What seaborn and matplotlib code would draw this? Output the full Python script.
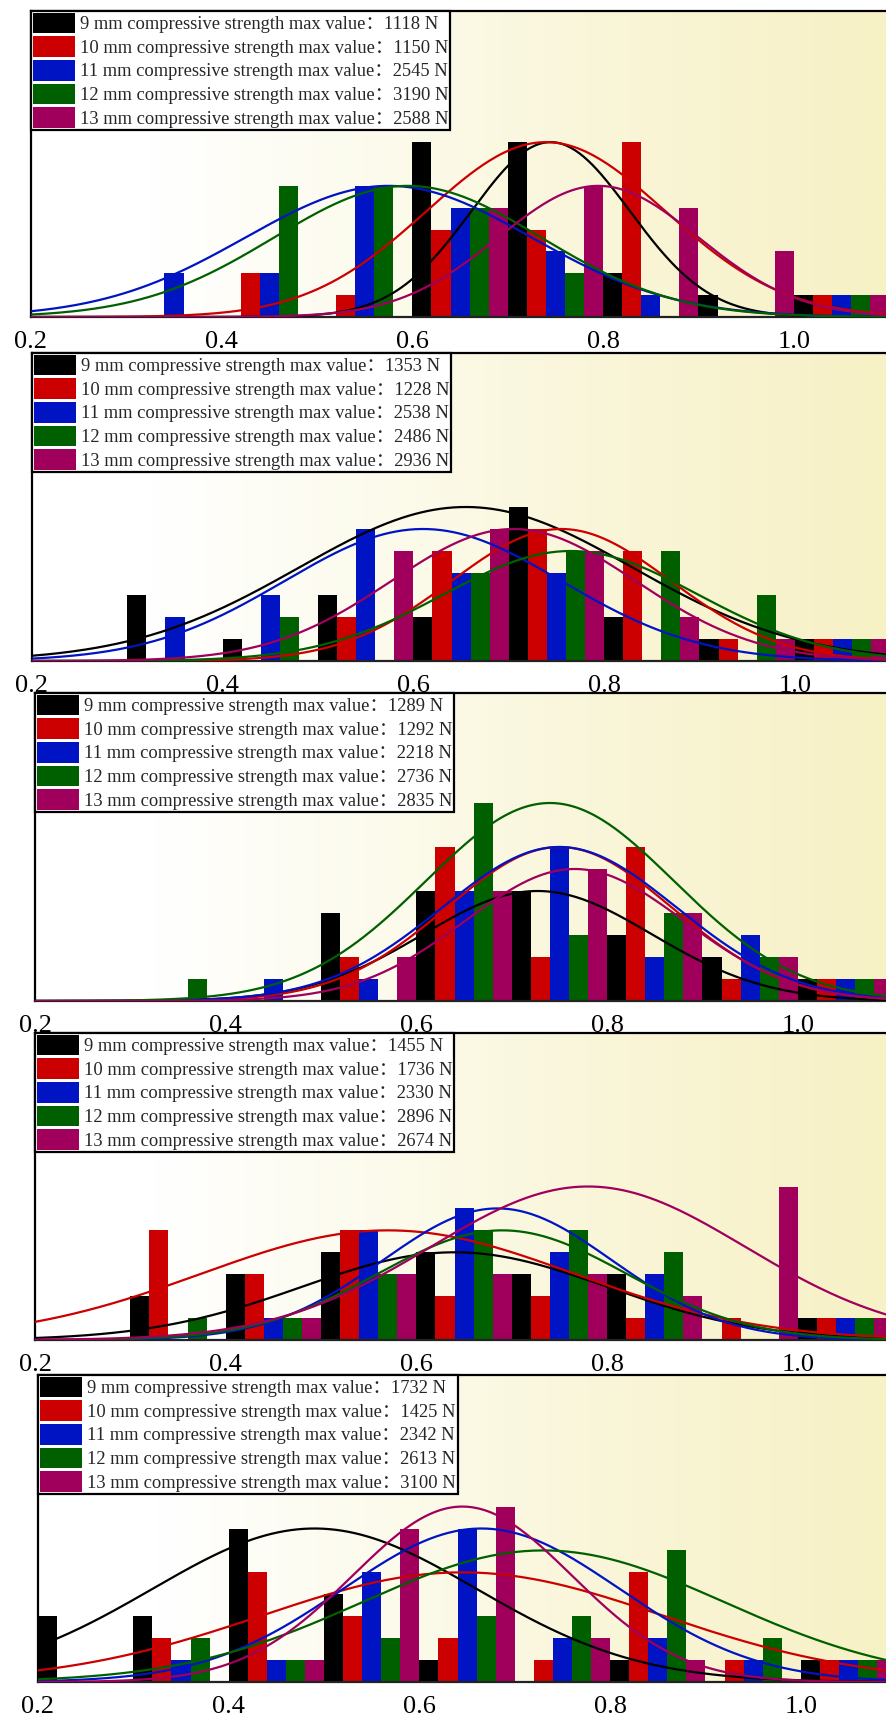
import numpy as np
import matplotlib
matplotlib.use("Agg")
import matplotlib.pyplot as plt
from matplotlib.colors import LinearSegmentedColormap
from matplotlib.patches import Patch
from matplotlib.font_manager import FontProperties
import seaborn as sns

sns.set_theme(style="white")
plt.rcParams["font.family"] = ["Liberation Serif", "Noto Sans CJK SC", "DejaVu Serif"]

# ---------------------------------------------------------------- data
bin_starts = [0.2, 0.3, 0.4, 0.5, 0.6, 0.7, 0.8, 0.9, 1.0]
diameters = ["9 mm", "10 mm", "11 mm", "12 mm", "13 mm"]
series_colors = ["#000000", "#CC0000", "#0014C4", "#006000", "#A0005C"]
tick_values = [0.2, 0.4, 0.6, 0.8, 1.0]

# sample counts per bin, one row per diameter (9 ... 13 mm)
counts_1 = [[0, 0, 0, 0, 8, 8, 2, 1, 1],
            [0, 0, 2, 1, 4, 4, 8, 0, 1],
            [0, 2, 2, 6, 5, 3, 1, 0, 1],
            [0, 0, 6, 6, 5, 2, 0, 0, 1],
            [0, 0, 0, 0, 5, 6, 5, 3, 1]]
counts_2 = [[0, 3, 1, 3, 2, 7, 2, 1, 1],
            [0, 0, 0, 2, 5, 6, 5, 1, 1],
            [0, 2, 3, 6, 4, 4, 0, 0, 1],
            [0, 0, 2, 0, 4, 5, 5, 3, 1],
            [0, 0, 0, 5, 6, 5, 2, 1, 1]]
counts_3 = [[0, 0, 0, 4, 5, 5, 3, 2, 1],
            [0, 0, 0, 2, 7, 2, 7, 1, 1],
            [0, 0, 1, 1, 5, 7, 2, 3, 1],
            [0, 1, 0, 0, 9, 3, 4, 2, 1],
            [0, 0, 0, 2, 5, 6, 4, 2, 1]]
counts_4 = [[0, 2, 3, 4, 4, 3, 3, 0, 1],
            [0, 5, 3, 5, 2, 2, 1, 1, 1],
            [0, 0, 1, 5, 6, 4, 3, 0, 1],
            [0, 1, 1, 3, 5, 5, 4, 0, 1],
            [0, 0, 1, 3, 3, 3, 2, 7, 1]]
counts_5 = [[3, 3, 7, 4, 1, 0, 1, 0, 1],
            [0, 2, 5, 3, 2, 1, 5, 1, 1],
            [0, 1, 1, 5, 7, 2, 2, 1, 1],
            [0, 2, 1, 2, 3, 3, 6, 2, 1],
            [0, 0, 1, 7, 8, 2, 1, 0, 1]]

# maximum compressive strength (N) of each diameter
max_1 = [1118, 1150, 2545, 3190, 2588]
max_2 = [1353, 1228, 2538, 2486, 2936]
max_3 = [1289, 1292, 2218, 2736, 2835]
max_4 = [1455, 1736, 2330, 2896, 2674]
max_5 = [1732, 1425, 2342, 2613, 3100]

# fitted normal curves: mean, standard deviation, peak height
mu_1 = [0.745, 0.740, 0.575, 0.595, 0.795]
sd_1 = [0.083, 0.125, 0.150, 0.140, 0.105]
pk_1 = [8, 8, 6, 6, 6]
mu_2 = [0.655, 0.755, 0.610, 0.765, 0.705]
sd_2 = [0.175, 0.115, 0.145, 0.133, 0.128]
pk_2 = [7, 6, 6, 5, 6]
mu_3 = [0.727, 0.750, 0.750, 0.740, 0.766]
sd_3 = [0.120, 0.118, 0.123, 0.130, 0.115]
pk_3 = [5, 7, 7, 9, 6]
mu_4 = [0.640, 0.570, 0.685, 0.690, 0.780]
sd_4 = [0.160, 0.195, 0.120, 0.130, 0.165]
pk_4 = [4, 5, 6, 5, 7]
mu_5 = [0.490, 0.645, 0.665, 0.730, 0.645]
sd_5 = [0.170, 0.210, 0.145, 0.190, 0.115]
pk_5 = [7, 5, 7, 6, 8]

panels = [
    (counts_1, max_1, mu_1, sd_1, pk_1),
    (counts_2, max_2, mu_2, sd_2, pk_2),
    (counts_3, max_3, mu_3, sd_3, pk_3),
    (counts_4, max_4, mu_4, sd_4, pk_4),
    (counts_5, max_5, mu_5, sd_5, pk_5),
]

# ---------------------------------------------------------------- layout
W, H = 886, 1717
frames = [(31, 11, 317), (32, 353, 661), (35, 693, 1001), (35, 1033, 1340), (38, 1375, 1682)]
px_per_unit = 953.5          # pixels per 1.0 on the x axis
bar_w = 0.02

fig = plt.figure(figsize=(W / 100, H / 100), dpi=100, facecolor="white")

bg_cmap = LinearSegmentedColormap.from_list(
    "cream", [(0.0, "#FFFFFF"), (0.14, "#FFFFFF"), (0.45, "#FCFAE9"),
              (0.75, "#F9F4D3"), (1.0, "#F7F1C6")])
gradient = np.linspace(0, 1, 512).reshape(1, -1)

legend_font = FontProperties(family=["Liberation Serif", "Noto Sans CJK SC"], size=13.3)

for (counts, maxima, mus, sds, pks), (left, top, bottom) in zip(panels, frames):
    ax = fig.add_axes([left / W, 1 - bottom / H, 1 - left / W, (bottom - top) / H])
    xmax = 0.2 + (W - left) / px_per_unit
    ax.set_xlim(0.2, xmax)
    ax.set_ylim(0, 14)

    ax.imshow(gradient, extent=[0, 1, 0, 1], transform=ax.transAxes,
              aspect="auto", cmap=bg_cmap, zorder=0)

    for i, (row, color) in enumerate(zip(counts, series_colors)):
        xs = np.array(bin_starts) + i * bar_w
        ax.bar(xs, row, width=bar_w, align="edge", color=color,
               linewidth=0, zorder=2)

    xx = np.linspace(0.2, xmax, 400)
    for m, s, p, color in zip(mus, sds, pks, series_colors):
        yy = p * np.exp(-0.5 * ((xx - m) / s) ** 2)
        sns.lineplot(x=xx, y=yy, color=color, linewidth=1.6, ax=ax,
                     legend=False, zorder=3)

    ax.set_xticks(tick_values)
    ax.set_xticklabels([f"{t:.1f}" for t in tick_values])
    ax.tick_params(axis="x", length=0, pad=10, labelsize=19, colors="black")
    ax.set_yticks([])
    ax.set_xlabel("")
    ax.set_ylabel("")

    for side in ["top", "left"]:
        ax.spines[side].set_color("black")
        ax.spines[side].set_linewidth(1.6)
    ax.spines["bottom"].set_color("#222222")
    ax.spines["bottom"].set_linewidth(1.6)
    ax.spines["right"].set_visible(False)

    handles = [Patch(facecolor=c, edgecolor="none") for c in series_colors]
    labels = [f"{d} compressive strength max value：{v} N"
              for d, v in zip(diameters, maxima)]
    leg = ax.legend(handles, labels, loc="upper left", bbox_to_anchor=(0, 1),
                    borderaxespad=0, prop=legend_font, frameon=True,
                    fancybox=False, framealpha=1, facecolor="white",
                    edgecolor="black", borderpad=0.1, labelspacing=0.16,
                    handlelength=2.3, handleheight=1.34, handletextpad=0.25)
    leg.get_frame().set_linewidth(1.6)
    leg.set_zorder(5)

fig.savefig("out.png", dpi=100, facecolor="white")
